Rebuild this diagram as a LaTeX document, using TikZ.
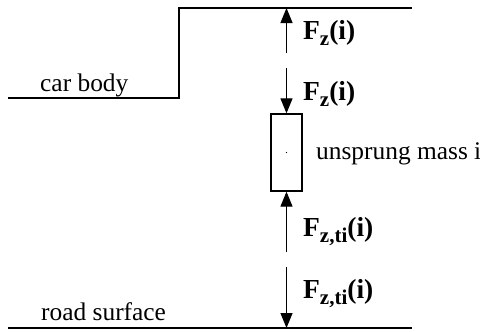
\documentclass[tikz,border=0pt]{standalone}
\usepackage{fontspec}
\setmainfont{Liberation Serif}
\usetikzlibrary{arrows.meta}
\newcommand{\fsub}[1]{\raisebox{-6pt}{\fontsize{21}{23}\selectfont\bfseries #1}}
\begin{document}
\begin{tikzpicture}[x=1pt,y=-1pt,
  line/.style={line width=1.4pt},
  force/.style={line width=1.2pt,-{Triangle[width=12pt,length=15pt]}},
  lbl/.style={anchor=base west,inner sep=0pt,font=\fontsize{25.4}{30}\selectfont},
  flbl/.style={anchor=base west,inner sep=0pt,font=\fontsize{27.5}{32}\selectfont\bfseries},
  massbox/.style={draw,line width=1.3pt,minimum width=31pt,minimum height=77pt,inner sep=0pt}]
\useasboundingbox (0,0) rectangle (480,332);
% car body outline
\coordinate (cbL) at (8,98);
\coordinate (cbC) at (179,98);
\coordinate (cbT) at (179,8);
\coordinate (topR) at (412,8);
\coordinate (topA) at (286.5,8);
\draw[line] (cbL) -- (cbC) -- (cbT) -- (topR);
% road
\coordinate (rdL) at (8,328);
\coordinate (rdR) at (412,328);
\coordinate (rdA) at (286.5,328);
\draw[line] (rdL) -- (rdR);
% unsprung mass
\node[massbox] (mass) at (286.5,152.5) {};
\fill (mass.center) circle (0.7pt);
% force arrows
\coordinate (a1) at (286.5,53);
\coordinate (a2) at (286.5,68);
\coordinate (a3) at (286.5,252);
\coordinate (a4) at (286.5,267);
\draw[force] (a1) -- (topA);
\draw[force] (a2) -- (mass.north);
\draw[force] (a3) -- (mass.south);
\draw[force] (a4) -- (rdA);
% labels
\node[flbl] (f1) at (303,39) {F\fsub{z}(i)};
\node[flbl] (f2) at (303,100) {F\fsub{z}(i)};
\node[flbl] (f3) at (303,236) {F\fsub{z,ti}(i)};
\node[flbl] (f4) at (303,298) {F\fsub{z,ti}(i)};
\node[lbl] (um) at (316,159) {unsprung mass i};
\node[lbl] (cb) at (40,91) {car body};
\node[lbl] (rs) at (41,320) {road surface};
\end{tikzpicture}
\end{document}
